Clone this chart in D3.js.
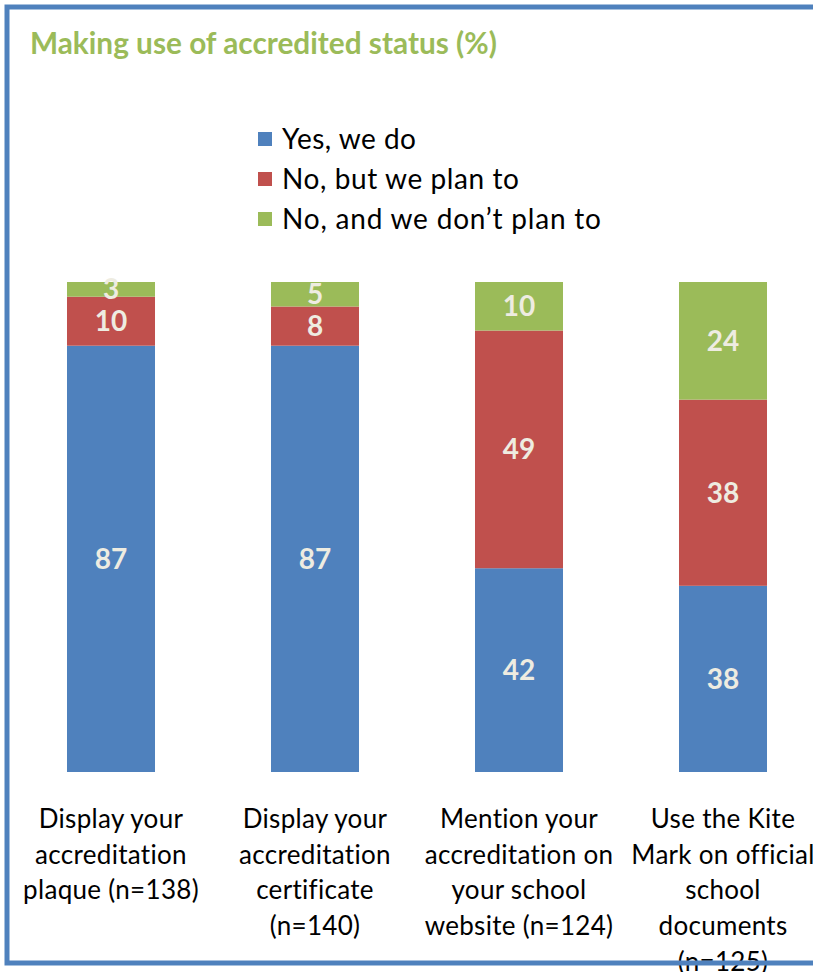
<!DOCTYPE html>
<html>
<head>
<meta charset="utf-8">
<script src="https://cdn.jsdelivr.net/npm/d3@7"></script>
<style>
  html, body { margin: 0; padding: 0; background: #fff; }
  svg { display: block; }
  text { font-family: Lato, "Open Sans", sans-serif; }
</style>
</head>
<body>
<svg id="chart" width="813" height="972"></svg>
<script>
// Survey results: how accredited schools make use of their status (%)
const categories = [
  "Display your accreditation plaque (n=138)",
  "Display your accreditation certificate (n=140)",
  "Mention your accreditation on your school website (n=124)",
  "Use the Kite Mark on official school documents (n=125)"
];
const categoryLines = [
  ["Display your", "accreditation", "plaque (n=138)"],
  ["Display your", "accreditation", "certificate", "(n=140)"],
  ["Mention your", "accreditation on", "your school", "website (n=124)"],
  ["Use the Kite", "Mark on official", "school", "documents", "(n=125)"]
];
const seriesNames = ["Yes, we do", "No, but we plan to", "No, and we don\u2019t plan to"];
const yesWeDo       = [87, 87, 42, 38];
const noButPlan     = [10, 8, 49, 38];
const noAndDontPlan = [3, 5, 10, 24];
const titleText = "Making use of accredited status (%)";

const colors = ["#4F81BD", "#C0504D", "#9BBB59"];
const keys = ["yes", "plan", "noplan"];

const rows = categories.map((c, i) => ({
  category: c,
  yes: yesWeDo[i],
  plan: noButPlan[i],
  noplan: noAndDontPlan[i]
}));

const svg = d3.select("#chart");

// stretch a text element to a target width by adjusting letter spacing
function fitWidth(sel, target) {
  const node = sel.node();
  const w = node.getComputedTextLength();
  const n = sel.text().length;
  if (w > 0 && n > 1) sel.attr("letter-spacing", (target - w) / (n - 1));
}

// 100% stacked columns
const stack = d3.stack().keys(keys).offset(d3.stackOffsetExpand);
const layers = stack(rows);

const x = d3.scaleBand()
  .domain(categories)
  .range([9, 825])
  .paddingInner(0.5686)
  .paddingOuter(0.2843);

const y = d3.scaleLinear().domain([0, 1]).range([772, 282]);

const g = svg.append("g");

layers.forEach((layer, li) => {
  g.selectAll(null)
    .data(layer)
    .join("rect")
    .attr("x", d => x(d.data.category))
    .attr("width", x.bandwidth())
    .attr("y", d => y(d[1]))
    .attr("height", d => y(d[0]) - y(d[1]))
    .attr("fill", colors[li]);
});

// value labels centred in each segment
layers.forEach((layer, li) => {
  g.selectAll(null)
    .data(layer)
    .join("text")
    .attr("x", d => x(d.data.category) + x.bandwidth() / 2)
    .attr("y", d => (y(d[0]) + y(d[1])) / 2)
    .attr("dy", "0.36em")
    .attr("text-anchor", "middle")
    .attr("font-size", 28)
    .attr("font-weight", "bold")
    .attr("fill", "#EEECE1")
    .text(d => d.data[keys[li]]);
});

// category labels (wrapped)
const labels = g.selectAll(null)
  .data(categories)
  .join("text")
  .attr("text-anchor", "middle")
  .attr("font-size", 26)
  .attr("letter-spacing", 0.3)
  .attr("fill", "#000");
labels.each(function(c, i) {
  const t = d3.select(this);
  categoryLines[i].forEach((line, j) => {
    t.append("tspan")
      .attr("x", x(c) + x.bandwidth() / 2)
      .attr("y", 828 + j * 35.7)
      .text(line);
  });
});

// legend
const legend = svg.append("g");
seriesNames.forEach((name, i) => {
  const cy = 139 + i * 40;
  legend.append("rect")
    .attr("x", 258).attr("y", cy - 7)
    .attr("width", 14).attr("height", 14)
    .attr("fill", colors[i]);
  const t = legend.append("text")
    .attr("x", 282).attr("y", cy)
    .attr("dy", "0.36em")
    .attr("font-size", 28)
    .attr("fill", "#000")
    .text(name);
  if (i === 2) fitWidth(t, 319);
  else if (i === 0) fitWidth(t, 134);
  else fitWidth(t, 237);
});

// title
const title = svg.append("text")
  .attr("x", 30).attr("y", 54)
  .attr("font-size", 23)
  .attr("font-weight", "bold")
  .attr("fill", "#9BBB59")
  .text(titleText);
const tw = title.node().getComputedTextLength();
if (tw > 0) title.attr("font-size", 23 * 467 / tw);

// chart frame, drawn over everything
svg.append("rect")
  .attr("x", 7).attr("y", 7)
  .attr("width", 840).attr("height", 956)
  .attr("fill", "none")
  .attr("stroke", "#4F81BD")
  .attr("stroke-width", 5);
</script>
</body>
</html>
